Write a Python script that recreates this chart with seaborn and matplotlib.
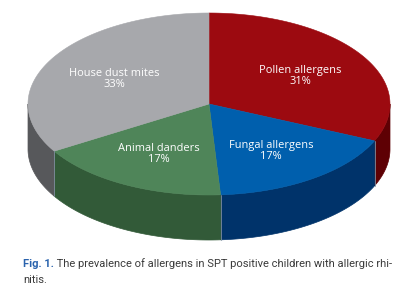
import numpy as np
import matplotlib.pyplot as plt
from matplotlib.patches import Polygon
import seaborn as sns

# Slice data, clockwise from 12 o'clock
categories = ["Pollen allergens", "Fungal allergens", "Animal danders", "House dust mites"]
shares = [31, 17, 17, 33]
top_colors = ["#9c0a10", "#005fad", "#4f8559", "#a7a8ac"]
side_colors = ["#5e0004", "#00336a", "#325a38", "#57585b"]

caption_tag = "Fig. 1."
caption_text = " The prevalence of allergens in SPT positive children with allergic rhi-"
caption_text2 = "nitis."

sns.set_style("white")
plt.rcParams['font.family'] = ['Open Sans', 'DejaVu Sans']

fig = plt.figure(figsize=(4.17, 3.03), dpi=100)
ax = fig.add_axes([0, 0, 1, 1])
ax.set_xlim(0, 417)
ax.set_ylim(303, 0)
ax.axis("off")

# ellipse geometry (pixels)
cx, cy, rx, ry, depth = 209, 104, 181, 91, 45


def rim(t, dy=0.0):
    return np.column_stack([cx + rx * np.cos(t), cy - ry * np.sin(t) + dy])


edges = 90 - np.concatenate([[0], np.cumsum(shares)]) / sum(shares) * 360

# side walls (visible front half: angles between -180 and 0)
for i in range(len(shares)):
    hi, lo = edges[i], edges[i + 1]
    a0, a1 = min(hi, 0), max(lo, -180)
    if a0 <= a1:
        continue
    t = np.radians(np.linspace(a0, a1, 120))
    pts = np.vstack([rim(t), rim(t[::-1], depth)])
    ax.add_patch(Polygon(pts, closed=True, facecolor=side_colors[i],
                         edgecolor=side_colors[i], lw=0.5))

# thin highlight lines where slices meet on the wall
for e in edges[1:-1]:
    if -180 < e < 0:
        p = rim(np.radians([e]))[0]
        ax.plot([p[0], p[0]], [p[1], p[1] + depth], color="#7f8f9f", lw=0.6)

# top faces
for i in range(len(shares)):
    t = np.radians(np.linspace(edges[i], edges[i + 1], 200))
    pts = np.vstack([[cx, cy], rim(t)])
    ax.add_patch(Polygon(pts, closed=True, facecolor=top_colors[i],
                         edgecolor=top_colors[i], lw=0.4))

# labels
for i, name in enumerate(categories):
    mid = np.radians((edges[i] + edges[i + 1]) / 2)
    x = cx + 0.6 * rx * np.cos(mid)
    y = cy - 0.6 * ry * np.sin(mid) + 2
    ax.text(x, y, f"{name}\n{shares[i]}%", color="white", fontsize=7.9,
            ha="center", va="center", linespacing=1.0)

# caption
cap_font = ['Roboto', 'DejaVu Sans']
tag = ax.text(23, 264, caption_tag, color="#2a63ad", fontsize=8.0,
              fontweight="bold", family=cap_font, va="center")
ax.annotate(caption_text, xy=(1, 0), xycoords=tag, va="bottom",
            color="#3a3a3a", fontsize=8.0, family=cap_font)
ax.text(23, 280, caption_text2, color="#3a3a3a", fontsize=8.0,
        family=cap_font, va="center")

fig.savefig("out.png", dpi=100)
